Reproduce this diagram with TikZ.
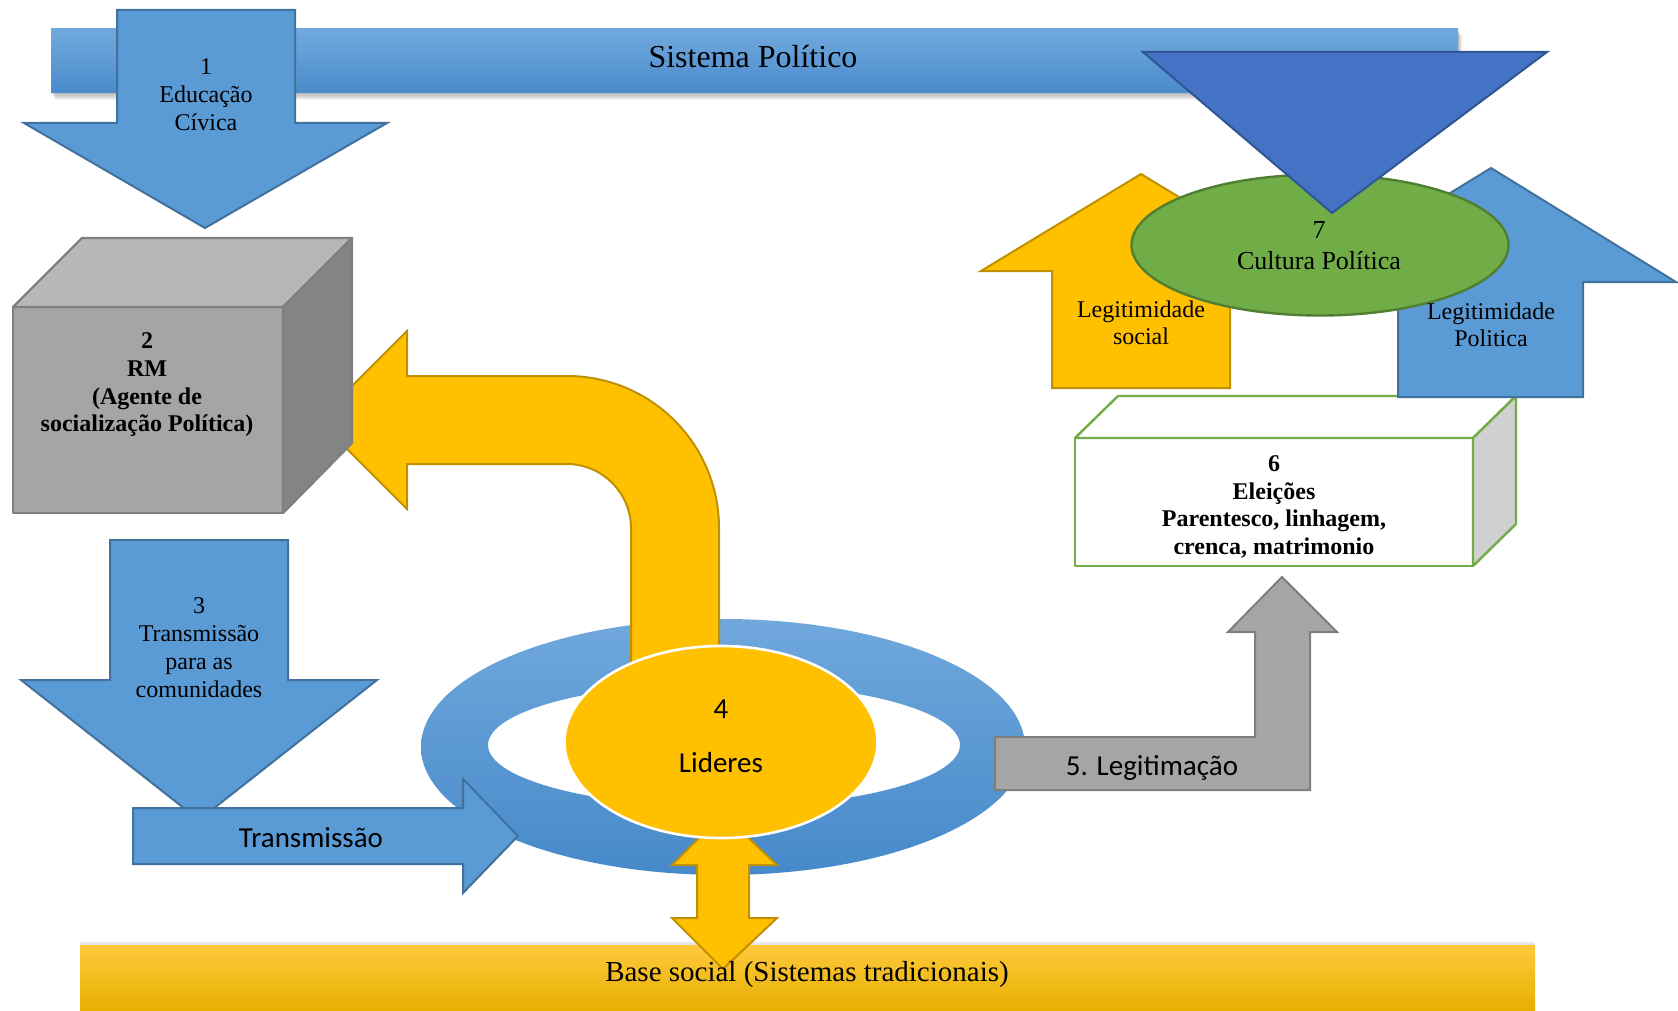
\documentclass[tikz,border=0pt]{standalone}
\usepackage{fontspec}
\setmainfont{Liberation Serif}
\newfontfamily\calibrifont{Carlito}
\usetikzlibrary{shapes.geometric}
\definecolor{bluefill}{HTML}{5B9BD5}
\definecolor{blueline}{HTML}{41719C}
\definecolor{gold}{HTML}{FFC000}
\definecolor{goldline}{HTML}{BF9000}
\definecolor{greyfill}{HTML}{A5A5A5}
\definecolor{greyline}{HTML}{7F7F7F}
\definecolor{greytop}{HTML}{B7B7B7}
\definecolor{greyside}{HTML}{848484}
\definecolor{lightside}{HTML}{D0D0D0}
\definecolor{greenfill}{HTML}{70AD47}
\definecolor{greenline}{HTML}{507E32}
\definecolor{navy}{HTML}{4472C4}
\definecolor{navyline}{HTML}{2F5597}
\definecolor{ringtop}{RGB}{112,168,220}
\definecolor{ringbot}{RGB}{70,137,202}
\definecolor{bartop}{RGB}{113,169,221}
\definecolor{barbot}{RGB}{74,139,204}
\definecolor{basetop}{RGB}{255,201,60}
\definecolor{basebot}{RGB}{230,175,0}
\begin{document}
\begin{tikzpicture}[x=0.5pt,y=-0.5pt,
  bluearrow/.style={fill=bluefill,draw=blueline,line width=1pt,line join=miter},
  goldshape/.style={fill=gold,draw=goldline,line width=1pt,line join=miter},
  greyshape/.style={fill=greyfill,draw=greyline,line width=1pt,line join=miter},
  txt/.style={align=center,inner sep=0pt,text=black},
  serifnormal/.style={txt,font=\fontsize{12}{14}\selectfont},
  serifbold/.style={txt,font=\fontsize{12}{13.8}\selectfont\bfseries},
  sanslabel/.style={txt,font=\fontsize{14.5}{17.4}\selectfont\calibrifont}
]
\useasboundingbox (0,0) rectangle (1678,1011);

% soft shadow under the top bar
\foreach \s in {1,...,7}
  \fill[black,opacity=0.045] (51+0.6*\s,29+\s) rectangle (1458+0.6*\s,93+\s);
% top bar: political system
\path[top color=bartop,bottom color=barbot] (51,29) rectangle (1458,93);

% arrow 1: civic education
\draw[bluearrow] (117,10) -- (295,10) -- (295,123) -- (387,123) -- (205,228)
  -- (24,123) -- (117,123) -- cycle;

% ring around the leaders
\path[even odd rule,top color=ringtop,bottom color=ringbot]
  (723,747) ellipse [x radius=302,y radius=128]
  (724,745) ellipse [x radius=236,y radius=62];

% bent arrow from the leaders back to RM
\draw[goldshape] (318,420) -- (407,331) -- (407,376) -- (567,376)
  .. controls (651,376) and (719,444) .. (719,528) -- (719,690)
  -- (631,690) -- (631,528)
  .. controls (631,493) and (602,464) .. (567,464)
  -- (407,464) -- (407,509) -- cycle;

% cube 2: RM
\draw[fill=greyfill,draw=greyline,line width=1.2pt,line join=round] (13,307) rectangle (283,513);
\draw[fill=greytop,draw=greyline,line width=1.2pt,line join=round] (13,307) -- (82,238) -- (352,238) -- (283,307) -- cycle;
\draw[fill=greyside,draw=greyline,line width=1.2pt,line join=round] (283,307) -- (352,238) -- (352,443) -- (283,513) -- cycle;

% arrow 3: transmission to communities
\draw[bluearrow] (110,540) -- (288,540) -- (288,680) -- (377,680) -- (199,820)
  -- (21,680) -- (110,680) -- cycle;

% transmission arrow into the ring
\draw[bluearrow] (133,808) -- (463,808) -- (463,779) -- (518,836) -- (463,893)
  -- (463,864) -- (133,864) -- cycle;

% bottom bar: social base
\foreach \s in {1,...,4}
  \fill[black,opacity=0.03] (80,945-\s) rectangle (1535,1011);
\path[top color=basetop,bottom color=basebot] (80,945) rectangle (1535,1011);

% double arrow between leaders and social base
\draw[goldshape] (723,814) -- (777,865) -- (749,865) -- (749,918) -- (777,918)
  -- (723,969) -- (672,918) -- (697,918) -- (697,865) -- (672,865) -- cycle;

% ellipse 4: leaders
\node[ellipse,minimum width=156.5pt,minimum height=96pt,inner sep=0pt,
  fill=gold,draw=white,line width=1.3pt] (lideres) at (721,742) {};

% arrow 5: legitimation
\draw[greyshape] (995,737) -- (1255,737) -- (1255,632) -- (1228,632) -- (1282,577)
  -- (1337,632) -- (1310,632) -- (1310,790) -- (995,790) -- cycle;

% box 6: elections
\draw[fill=white,draw=greenfill,line width=1.2pt,line join=round] (1075,438) rectangle (1473,566);
\draw[fill=white,draw=greenfill,line width=1.2pt,line join=round] (1075,438) -- (1118,396) -- (1516,396) -- (1473,438) -- cycle;
\draw[fill=lightside,draw=greenfill,line width=1.2pt,line join=round] (1473,438) -- (1516,396) -- (1516,524) -- (1473,566) -- cycle;

% upward arrows of legitimacy
\draw[goldshape] (1141,174) -- (1301,271) -- (1230,271) -- (1230,388) -- (1052,388)
  -- (1052,271) -- (981,271) -- cycle;
\draw[bluearrow] (1491,168) -- (1676,282) -- (1583,282) -- (1583,397) -- (1398,397)
  -- (1398,282) -- (1305,282) -- cycle;

% ellipse 7: political culture
\node[ellipse,minimum width=188.5pt,minimum height=70.5pt,inner sep=0pt,
  fill=greenfill,draw=greenline,line width=1.2pt] (cultura) at (1320,245) {};

% inverted triangle above the culture
\draw[fill=navy,draw=navyline,line width=1pt,line join=miter]
  (1143,52) -- (1547,52) -- (1332,213) -- cycle;

% labels
\node[txt,font=\fontsize{16}{19}\selectfont] (sistema) at (753,57) {Sistema Político};
\node[serifnormal] (educ) at (206,95) {1\\Educação\\Cívica};
\node[serifbold] (rm) at (147,385) {2\\RM\\(Agente de\\socialização Política)};
\node[serifnormal] (transcom) at (199,648) {3\\Transmissão\\para as\\comunidades};
\node[sanslabel] (transm) at (311,838) {Transmissão};
\node[sanslabel] (lidtext) at (721,736) {4\\[9.5pt]Lideres};
\node[sanslabel] (legitim) at (1152,768) {5. Legitimação};
\node[serifbold] (eleicoes) at (1274,507) {6\\Eleições\\Parentesco, linhagem,\\crenca, matrimonio};
\node[txt,font=\fontsize{13}{15.5}\selectfont] (cultext) at (1319,246) {7\\Cultura Política};
\node[serifnormal,font=\fontsize{12}{13.6}\selectfont] (legsoc) at (1141,323) {Legitimidade\\social};
\node[serifnormal,font=\fontsize{12}{13.6}\selectfont] (legpol) at (1491,325) {Legitimidade\\Politica};
\node[txt,font=\fontsize{14.5}{17}\selectfont] (base) at (807,975) {Base social (Sistemas tradicionais)};
\end{tikzpicture}
\end{document}
